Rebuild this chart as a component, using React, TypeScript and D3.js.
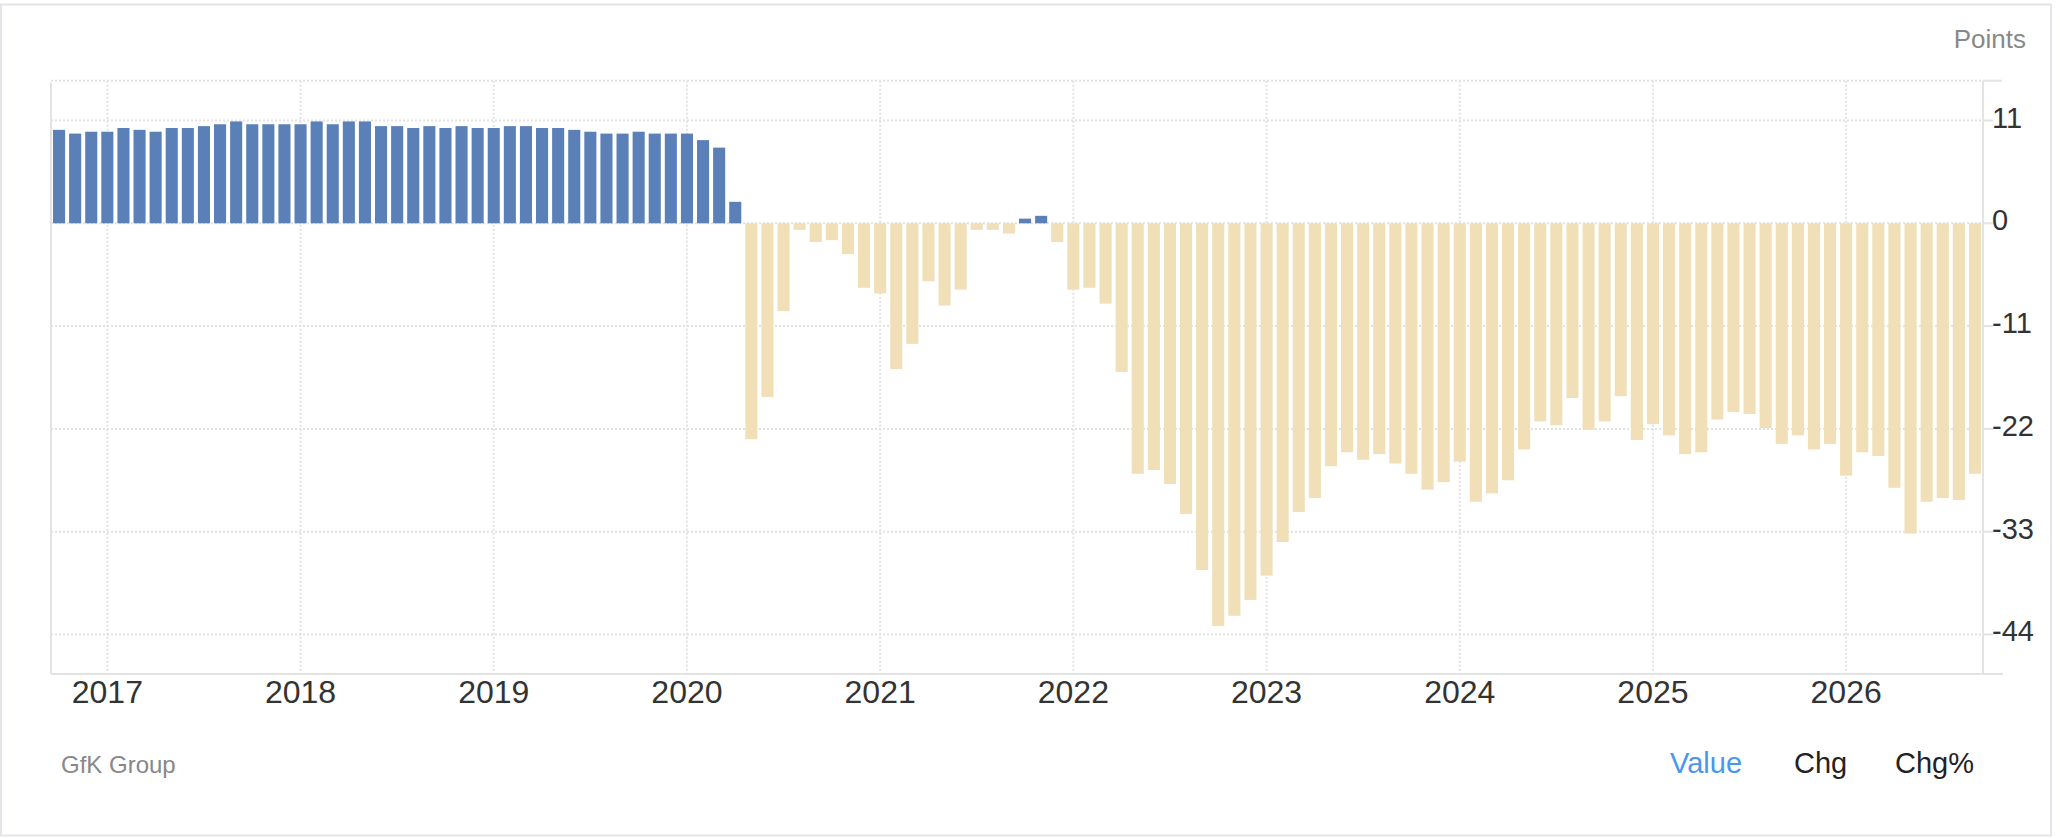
import React from "react";
import * as d3 from "d3";

// ---- data (GfK consumer climate, points) ----
const startYear = 2016;
const startMonth = 9; // October (0-based)
const values2016 = [10.0, 9.6, 9.8];
const values2017 = [9.8, 10.2, 10.0, 9.8, 10.2, 10.2, 10.4, 10.6, 10.9, 10.6, 10.6, 10.6];
const values2018 = [10.6, 10.9, 10.6, 10.9, 10.9, 10.4, 10.4, 10.2, 10.4, 10.2, 10.4, 10.2];
const values2019 = [10.2, 10.4, 10.4, 10.2, 10.2, 10.0, 9.8, 9.6, 9.6, 9.8, 9.6, 9.6];
const values2020 = [9.6, 8.9, 8.1, 2.3, -23.1, -18.6, -9.4, -0.7, -2.0, -1.8, -3.3, -6.9];
const values2021 = [-7.5, -15.6, -12.9, -6.2, -8.8, -7.1, -0.7, -0.7, -1.1, 0.5, 0.8, -2.0];
const values2022 = [-7.1, -6.9, -8.6, -15.9, -26.8, -26.4, -27.9, -31.1, -37.1, -43.1, -42.0, -40.3];
const values2023 = [-37.7, -34.1, -30.9, -29.4, -26.0, -24.5, -25.3, -24.7, -25.7, -26.8, -28.5, -27.7];
const values2024 = [-25.5, -29.8, -28.9, -27.5, -24.2, -21.2, -21.6, -18.7, -22.1, -21.2, -18.5, -23.2];
const values2025 = [-21.5, -22.7, -24.7, -24.5, -21.0, -20.2, -20.4, -21.9, -23.6, -22.7, -24.2, -23.6];
const values2026 = [-27.0, -24.5, -24.9, -28.3, -33.2, -29.8, -29.4, -29.6, -26.8];

const yearTickLabels = ["2017", "2018", "2019", "2020", "2021", "2022", "2023", "2024", "2025", "2026"];
const yTicks = [11, 0, -11, -22, -33, -44];
const yDomain = [-48.23, 15.26];
const unitLabel = "Points";
const sourceLabel = "GfK Group";
const tabLabels = ["Value", "Chg", "Chg%"];

const allValues = [
  ...values2016, ...values2017, ...values2018, ...values2019, ...values2020, ...values2021,
  ...values2022, ...values2023, ...values2024, ...values2025, ...values2026,
];
const categories = allValues.map((_, i) => {
  const m = startMonth + i;
  const y = startYear + Math.floor(m / 12);
  return `${y}-${String((m % 12) + 1).padStart(2, "0")}`;
});
const data = categories.map((c, i) => ({ key: c, value: allValues[i] }));

// ---- layout ----
const W = 2060;
const H = 838;
const plotLeft = 51;
const plotRight = 1983;
const plotTop = 80.7;
const plotBottom = 674;
const FONT = "'Liberation Sans', Arial, Helvetica, sans-serif";
const BLUE = "#5b80b8";
const TAN = "#f0dfb7";
const GRID = "#e2e2e2";
const AXIS = "#e3e3e3";

export default function App() {
  const x = d3
    .scaleBand<string>()
    .domain(categories)
    .range([plotLeft, plotRight])
    .paddingInner(0.25)
    .paddingOuter(0.125);
  const y = d3.scaleLinear().domain(yDomain).range([plotBottom, plotTop]);
  const bw = x.bandwidth();
  const yearX = (yr: string) => (x(`${yr}-01`) as number) + bw / 2;

  return (
    <svg
      width={W}
      height={H}
      style={{ position: "absolute", left: 0, top: 0, background: "#fff" }}
      fontFamily={FONT}
    >
      {/* outer frame */}
      <rect x={1} y={4.5} width={2050} height={831} fill="#fff" stroke="#e4e4ea" strokeWidth={2} />

      {/* horizontal grid */}
      {[...yTicks, yDomain[1]].map((t) => (
        <line
          key={`h${t}`}
          x1={plotLeft}
          x2={plotRight}
          y1={y(t)}
          y2={y(t)}
          stroke={GRID}
          strokeWidth={2}
          strokeDasharray="2 2"
        />
      ))}
      {/* vertical grid */}
      {yearTickLabels.map((yr) => (
        <line
          key={`v${yr}`}
          x1={yearX(yr)}
          x2={yearX(yr)}
          y1={plotTop}
          y2={plotBottom}
          stroke={GRID}
          strokeWidth={2}
          strokeDasharray="2 2"
        />
      ))}

      {/* bars */}
      {data.map((d) => (
        <rect
          key={d.key}
          x={x(d.key)}
          width={bw}
          y={y(Math.max(0, d.value))}
          height={Math.abs(y(d.value) - y(0))}
          fill={d.value >= 0 ? BLUE : TAN}
        />
      ))}

      {/* axes lines */}
      <line x1={plotLeft} x2={plotLeft} y1={plotTop + 2} y2={plotBottom} stroke={AXIS} strokeWidth={2} />
      <line x1={plotRight} x2={plotRight} y1={plotTop} y2={plotBottom} stroke={AXIS} strokeWidth={2} />
      <line x1={plotLeft} x2={plotRight + 20} y1={plotBottom} y2={plotBottom} stroke={AXIS} strokeWidth={2} />
      <line x1={plotRight} x2={plotRight + 19} y1={plotTop} y2={plotTop} stroke={AXIS} strokeWidth={2} />

      {/* y ticks & labels */}
      {yTicks.map((t) => (
        <g key={`yt${t}`}>
          <line x1={plotRight} x2={plotRight + 10} y1={y(t)} y2={y(t)} stroke={AXIS} strokeWidth={2} />
          <text x={plotRight + 9} y={y(t) + 7} fontSize={29} fill="#333">
            {t}
          </text>
        </g>
      ))}

      {/* x labels */}
      {yearTickLabels.map((yr) => (
        <text key={`xl${yr}`} x={yearX(yr)} y={702.5} fontSize={32} fill="#333" textAnchor="middle">
          {yr}
        </text>
      ))}

      {/* unit */}
      <text x={2026} y={48} fontSize={26} fill="#888" textAnchor="end">
        {unitLabel}
      </text>

      {/* source */}
      <text x={61} y={773} fontSize={24} fill="#888">
        {sourceLabel}
      </text>

      {/* tabs */}
      <text x={1670} y={772.5} fontSize={29} fill="#4a97ec">
        {tabLabels[0]}
      </text>
      <text x={1794} y={772.5} fontSize={29} fill="#222">
        {tabLabels[1]}
      </text>
      <text x={1895} y={772.5} fontSize={29} fill="#222">
        {tabLabels[2]}
      </text>
    </svg>
  );
}
